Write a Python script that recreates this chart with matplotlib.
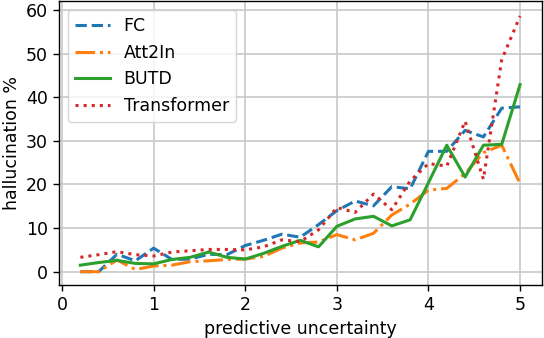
import matplotlib
matplotlib.use("Agg")
import matplotlib.pyplot as plt
import numpy as np

x = [0.2, 0.4, 0.6, 0.8, 1.0, 1.2, 1.4, 1.6, 1.8, 2.0, 2.2, 2.4, 2.6, 2.8, 3.0,
     3.2, 3.4, 3.6, 3.8, 4.0, 4.2, 4.4, 4.6, 4.8, 5.0]
fc = [0, 0, 4.0, 2.5, 5.4, 2.8, 2.9, 4.0, 3.9, 6.0, 7.2, 8.6, 7.9, 10.8, 14.0,
      16.2, 15.1, 19.5, 19.0, 27.6, 27.6, 32.4, 30.9, 37.5, 37.8]
att2in = [0, 0, 2.7, 0.5, 1.3, 1.5, 2.3, 2.5, 2.8, 2.9, 3.5, 5.4, 6.6, 6.8, 8.5,
          7.3, 8.8, 13.0, 15.5, 18.7, 19.1, 22.5, 27.3, 29.0, 20.2]
butd = [1.5, 2.1, 2.6, 1.9, 1.8, 2.8, 3.3, 4.5, 3.3, 2.9, 4.2, 5.8, 7.2, 5.7, 10.4,
        12.1, 12.7, 10.5, 11.9, 20.4, 29.0, 21.7, 29.0, 29.2, 42.9]
transformer = [3.3, 3.9, 4.6, 3.9, 3.6, 4.5, 4.8, 5.1, 5.1, 5.0, 5.7, 7.3, 6.9, 9.6, 14.7,
               13.6, 17.8, 14.2, 20.8, 24.8, 24.2, 34.5, 21.2, 48.6, 58.6]

labels = ["FC", "Att2In", "BUTD", "Transformer"]
xlabel = "predictive uncertainty"
ylabel = "hallucination %"

plt.rcParams['font.family'] = ['DejaVu Sans']
fs = 12.5
fig = plt.figure(figsize=(5.44, 3.38), dpi=100)
ax = fig.add_axes([0.109, 0.1568, 0.9969 - 0.109, 0.9962 - 0.1568])

lw = 2.2
ax.plot(x, fc, '--', color='#1f77b4', lw=lw, label=labels[0])
ax.plot(x, att2in, '-.', color='#ff7f0e', lw=lw, label=labels[1])
ax.plot(x, butd, '-', color='#2ca02c', lw=lw, label=labels[2])
ax.plot(x, transformer, ':', color='#d62728', lw=lw, label=labels[3])

ax.set_xlim(-0.03, 5.243)
ax.set_ylim(-3.05, 62.0)
ax.set_xticks([0, 1, 2, 3, 4, 5])
ax.set_yticks([0, 10, 20, 30, 40, 50, 60])
ax.grid(True, color='#c8c8c8', lw=1.2)
ax.set_axisbelow(True)
ax.tick_params(labelsize=fs, length=4.5, width=1.0)
for s in ax.spines.values():
    s.set_linewidth(1.0)
ax.set_xlabel(xlabel, fontsize=fs)
ax.set_ylabel(ylabel, fontsize=fs)
ax.legend(loc='upper left', fontsize=fs)

fig.savefig('out.png', dpi=100)
